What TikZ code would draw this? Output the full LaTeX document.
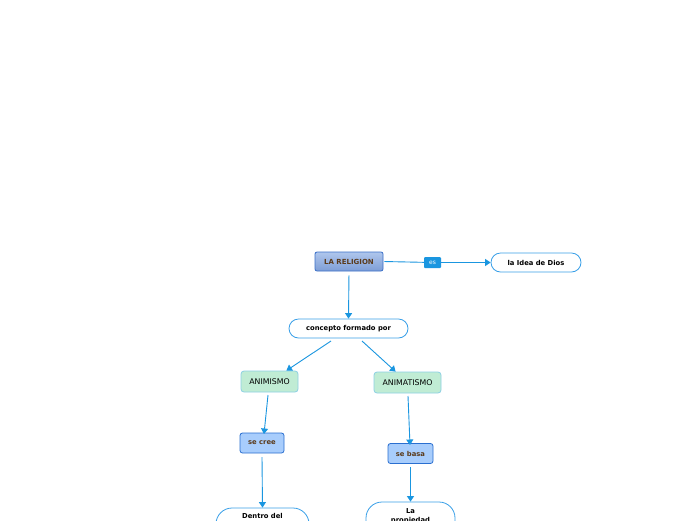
\documentclass[tikz,border=0pt]{standalone}
\usepackage{fontspec}
\setmainfont{DejaVu Sans}
\usetikzlibrary{arrows.meta}
\definecolor{lineblue}{HTML}{1A96E0}
\definecolor{pillborder}{HTML}{3AA0E8}
\definecolor{rootborder}{HTML}{3A6FC8}
\definecolor{roottop}{HTML}{AFC6EC}
\definecolor{rootbot}{HTML}{7E9ED6}
\definecolor{browntext}{HTML}{5A3A1A}
\definecolor{greenfill}{HTML}{C0ECD4}
\definecolor{greenborder}{HTML}{8CD0E4}
\definecolor{verbfill}{HTML}{A8CDFC}
\definecolor{verbborder}{HTML}{2A6FD0}
\tikzset{
  rootbox/.style={draw=rootborder, line width=0.8pt, rounded corners=2pt, top color=roottop, bottom color=rootbot,
    minimum width=68pt, minimum height=19pt, inner sep=0pt, font=\fontsize{7}{8}\selectfont\bfseries, text=browntext},
  pill/.style={draw=pillborder, line width=0.8pt, fill=white, rounded corners=9.5pt,
    minimum height=19pt, inner sep=0pt, font=\fontsize{6.8}{8}\selectfont\bfseries, text=black},
  bigpill/.style={draw=pillborder, line width=0.8pt, fill=white, rounded corners=16pt, inner sep=0pt},
  greenbox/.style={draw=greenborder, line width=0.8pt, fill=greenfill, rounded corners=3pt,
    minimum height=21pt, inner sep=0pt, font=\fontsize{7.8}{9}\selectfont, text=black},
  verbbox/.style={draw=verbborder, line width=0.8pt, fill=verbfill, rounded corners=2.5pt,
    minimum height=20pt, inner sep=0pt, font=\fontsize{6.8}{8}\selectfont\bfseries, text=browntext},
  labelbox/.style={fill=lineblue, rounded corners=1pt, minimum width=17pt, minimum height=11pt, inner sep=0pt,
    font=\fontsize{6}{7}\selectfont, text=white},
  conn/.style={draw=lineblue, line width=0.9pt, -{Triangle[length=5.5pt,width=7pt]}},
  cut/.style={font=\fontsize{6.8}{9}\selectfont\bfseries, align=center, inner sep=0pt, text=black}
}
\begin{document}
\begin{tikzpicture}[x=1pt,y=-1pt]
\useasboundingbox (0,0) rectangle (696,520);
\fill[white] (0,0) rectangle (696,520);
\clip (0,0) rectangle (696,520);

\node[rootbox] (rel) at (349,261.5) {LA RELIGION};
\node[pill, minimum width=90pt] (dios) at (536,262.5) {la Idea de Dios};
\node[pill, minimum width=119pt] (conc) at (348.5,328.5) {concepto formado por};
\node[greenbox, minimum width=57pt] (anim) at (269.5,381.5) {ANIMISMO};
\node[greenbox, minimum width=67pt] (anat) at (407.5,382.5) {ANIMATISMO};
\node[verbbox, minimum width=44pt] (cree) at (262,443) {se cree};
\node[verbbox, minimum width=45pt] (basa) at (410.5,453.5) {se basa};
\node[bigpill, minimum width=93pt, minimum height=40pt] (dentro) at (262.5,528) {};
\node[cut, anchor=north] (dentrotxt) at (262.5,513.5) {Dentro del};
\node[bigpill, minimum width=89pt, minimum height=46pt] (prop) at (410.5,525) {};
\node[cut, anchor=north] (proptxt) at (410.5,508.5) {La\\propiedad};

\coordinate (esc) at (432.5,262.5);
\draw[draw=lineblue, line width=0.9pt, shorten <=1pt] (rel.east) -- (esc);
\draw[conn] (esc) -- (dios.west);
\node[labelbox] (es) at (esc) {es};

\draw[conn, shorten <=4pt] (rel.south) -- (conc.north);
\draw[conn] (331,341) -- ([xshift=-12pt]anim.north east);
\draw[conn] (362,341) -- ([xshift=22pt]anat.north west);
\draw[conn] (268,395) -- (264,434);
\draw[conn] (408,396) -- (410,445);
\draw[conn] (262,457) -- (dentro.north);
\draw[conn] (410.5,467) -- (prop.north);
\end{tikzpicture}
\end{document}
